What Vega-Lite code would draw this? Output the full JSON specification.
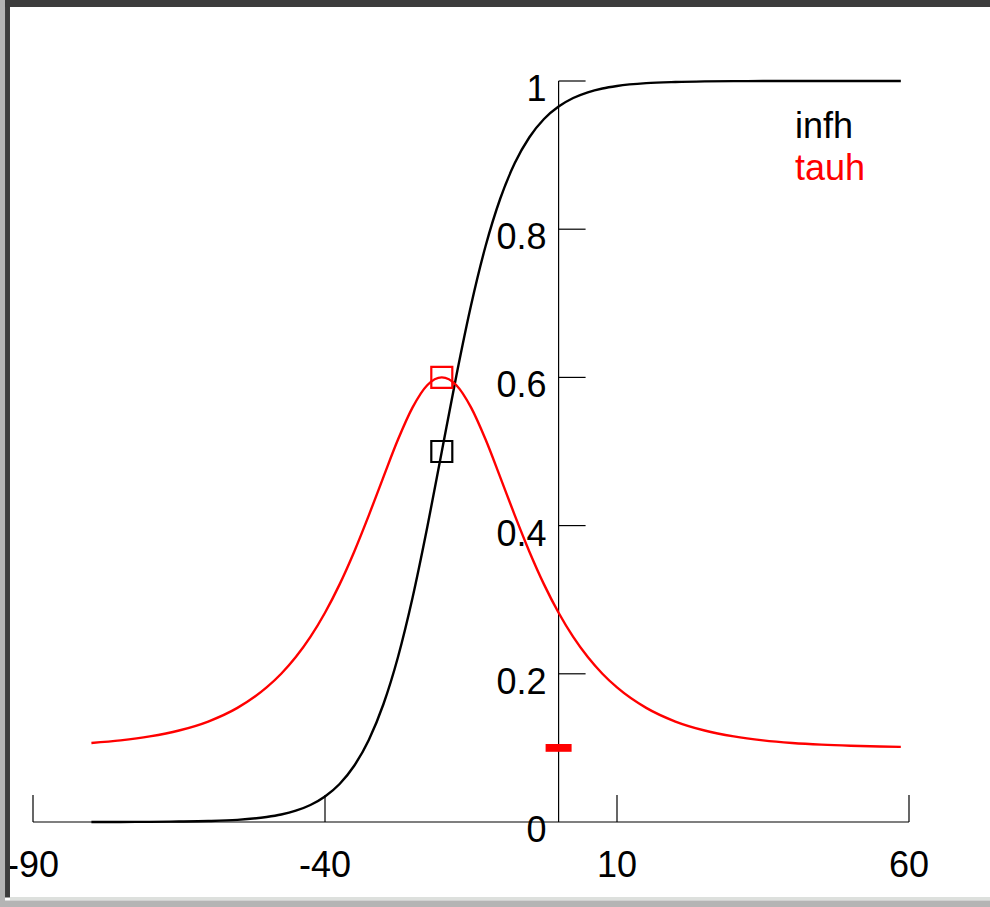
{
  "$schema": "https://vega.github.io/schema/vega-lite/v6.json",
  "width": 876,
  "height": 741,
  "autosize": {"type": "none"},
  "padding": {"left": 33, "top": 81, "right": 81, "bottom": 85},
  "background": "#ffffff",
  "config": {"view": {"stroke": null}, "font": "Liberation Sans"},
  "datasets": {
    "curves": [
      {"v": -80, "value": 0.00005, "series": "infh"},
      {"v": -75, "value": 0.0001, "series": "infh"},
      {"v": -70, "value": 0.0002, "series": "infh"},
      {"v": -65, "value": 0.0006, "series": "infh"},
      {"v": -60, "value": 0.0013, "series": "infh"},
      {"v": -55, "value": 0.0029, "series": "infh"},
      {"v": -50, "value": 0.0067, "series": "infh"},
      {"v": -47.5, "value": 0.0101, "series": "infh"},
      {"v": -45, "value": 0.0153, "series": "infh"},
      {"v": -42.5, "value": 0.023, "series": "infh"},
      {"v": -40, "value": 0.0345, "series": "infh"},
      {"v": -37.5, "value": 0.0513, "series": "infh"},
      {"v": -35, "value": 0.0759, "series": "infh"},
      {"v": -32.5, "value": 0.1107, "series": "infh"},
      {"v": -30, "value": 0.1589, "series": "infh"},
      {"v": -27.5, "value": 0.2227, "series": "infh"},
      {"v": -25, "value": 0.3029, "series": "infh"},
      {"v": -22.5, "value": 0.3973, "series": "infh"},
      {"v": -20, "value": 0.5, "series": "infh"},
      {"v": -17.5, "value": 0.6027, "series": "infh"},
      {"v": -15, "value": 0.6971, "series": "infh"},
      {"v": -12.5, "value": 0.7773, "series": "infh"},
      {"v": -10, "value": 0.8411, "series": "infh"},
      {"v": -7.5, "value": 0.8893, "series": "infh"},
      {"v": -5, "value": 0.9241, "series": "infh"},
      {"v": -2.5, "value": 0.9487, "series": "infh"},
      {"v": 0, "value": 0.9655, "series": "infh"},
      {"v": 2.5, "value": 0.977, "series": "infh"},
      {"v": 5, "value": 0.9847, "series": "infh"},
      {"v": 7.5, "value": 0.9899, "series": "infh"},
      {"v": 10, "value": 0.9933, "series": "infh"},
      {"v": 15, "value": 0.9971, "series": "infh"},
      {"v": 20, "value": 0.9987, "series": "infh"},
      {"v": 25, "value": 0.9995, "series": "infh"},
      {"v": 30, "value": 0.9998, "series": "infh"},
      {"v": 35, "value": 0.9999, "series": "infh"},
      {"v": 40, "value": 1.0, "series": "infh"},
      {"v": 50, "value": 1.0, "series": "infh"},
      {"v": 58.6, "value": 1.0, "series": "infh"},
      {"v": -80, "value": 0.1067, "series": "tauh"},
      {"v": -75, "value": 0.1102, "series": "tauh"},
      {"v": -70, "value": 0.1155, "series": "tauh"},
      {"v": -65, "value": 0.1235, "series": "tauh"},
      {"v": -60, "value": 0.1356, "series": "tauh"},
      {"v": -55, "value": 0.154, "series": "tauh"},
      {"v": -50, "value": 0.1816, "series": "tauh"},
      {"v": -47.5, "value": 0.2001, "series": "tauh"},
      {"v": -45, "value": 0.2226, "series": "tauh"},
      {"v": -42.5, "value": 0.2498, "series": "tauh"},
      {"v": -40, "value": 0.2824, "series": "tauh"},
      {"v": -37.5, "value": 0.3207, "series": "tauh"},
      {"v": -35, "value": 0.3648, "series": "tauh"},
      {"v": -32.5, "value": 0.4138, "series": "tauh"},
      {"v": -30, "value": 0.4655, "series": "tauh"},
      {"v": -27.5, "value": 0.5161, "series": "tauh"},
      {"v": -25, "value": 0.5595, "series": "tauh"},
      {"v": -22.5, "value": 0.5894, "series": "tauh"},
      {"v": -20, "value": 0.6, "series": "tauh"},
      {"v": -17.5, "value": 0.5894, "series": "tauh"},
      {"v": -15, "value": 0.5595, "series": "tauh"},
      {"v": -12.5, "value": 0.5161, "series": "tauh"},
      {"v": -10, "value": 0.4655, "series": "tauh"},
      {"v": -7.5, "value": 0.4138, "series": "tauh"},
      {"v": -5, "value": 0.3648, "series": "tauh"},
      {"v": -2.5, "value": 0.3207, "series": "tauh"},
      {"v": 0, "value": 0.2824, "series": "tauh"},
      {"v": 2.5, "value": 0.2498, "series": "tauh"},
      {"v": 5, "value": 0.2226, "series": "tauh"},
      {"v": 7.5, "value": 0.2001, "series": "tauh"},
      {"v": 10, "value": 0.1816, "series": "tauh"},
      {"v": 15, "value": 0.154, "series": "tauh"},
      {"v": 20, "value": 0.1356, "series": "tauh"},
      {"v": 25, "value": 0.1235, "series": "tauh"},
      {"v": 30, "value": 0.1155, "series": "tauh"},
      {"v": 35, "value": 0.1102, "series": "tauh"},
      {"v": 40, "value": 0.1067, "series": "tauh"},
      {"v": 45, "value": 0.1044, "series": "tauh"},
      {"v": 50, "value": 0.1029, "series": "tauh"},
      {"v": 55, "value": 0.1019, "series": "tauh"},
      {"v": 58.6, "value": 0.1014, "series": "tauh"}
    ],
    "markers": [
      {"v": -20, "value": 0.5, "series": "infh"},
      {"v": -20, "value": 0.6, "series": "tauh"}
    ],
    "bar": [{"v": 0, "value": 0.1}],
    "xticks": [
      {"v": -90, "label": "-90"},
      {"v": -40, "label": "-40"},
      {"v": 10, "label": "10"},
      {"v": 60, "label": "60"}
    ],
    "yticks": [
      {"value": 0, "label": "0"},
      {"value": 0.2, "label": "0.2"},
      {"value": 0.4, "label": "0.4"},
      {"value": 0.6, "label": "0.6"},
      {"value": 0.8, "label": "0.8"},
      {"value": 1, "label": "1"}
    ],
    "one": [{"k": 1}]
  },
  "layer": [
    {
      "data": {"name": "one"},
      "mark": {"type": "rule", "color": "#000000", "strokeWidth": 1.2},
      "encoding": {
        "x": {"datum": -90, "type": "quantitative", "scale": {"domain": [-90, 60], "nice": false, "zero": false}, "axis": null},
        "x2": {"datum": 60},
        "y": {"datum": 0, "type": "quantitative", "scale": {"domain": [0, 1], "nice": false, "zero": false}, "axis": null}
      }
    },
    {
      "data": {"name": "one"},
      "mark": {"type": "rule", "color": "#000000", "strokeWidth": 1.2},
      "encoding": {
        "x": {"datum": 0, "type": "quantitative", "scale": {"domain": [-90, 60], "nice": false, "zero": false}, "axis": null},
        "y": {"datum": 0, "type": "quantitative", "scale": {"domain": [0, 1], "nice": false, "zero": false}, "axis": null},
        "y2": {"datum": 1}
      }
    },
    {
      "data": {"name": "xticks"},
      "mark": {"type": "rule", "color": "#000000", "strokeWidth": 1.2},
      "encoding": {
        "x": {"field": "v", "type": "quantitative", "scale": {"domain": [-90, 60], "nice": false, "zero": false}, "axis": null},
        "y": {"datum": 0, "type": "quantitative", "scale": {"domain": [0, 1], "nice": false, "zero": false}, "axis": null},
        "y2": {"datum": 0.0364}
      }
    },
    {
      "data": {"name": "yticks"},
      "transform": [{"filter": "datum.value > 0"}],
      "mark": {"type": "rule", "color": "#000000", "strokeWidth": 1.2},
      "encoding": {
        "x": {"datum": 0, "type": "quantitative", "scale": {"domain": [-90, 60], "nice": false, "zero": false}, "axis": null},
        "x2": {"datum": 4.62},
        "y": {"field": "value", "type": "quantitative", "scale": {"domain": [0, 1], "nice": false, "zero": false}, "axis": null}
      }
    },
    {
      "data": {"name": "xticks"},
      "mark": {"type": "text", "fontSize": 36, "color": "#000000", "align": "center", "baseline": "alphabetic", "dy": 55},
      "encoding": {
        "x": {"field": "v", "type": "quantitative", "scale": {"domain": [-90, 60], "nice": false, "zero": false}, "axis": null},
        "y": {"datum": 0, "type": "quantitative", "scale": {"domain": [0, 1], "nice": false, "zero": false}, "axis": null},
        "text": {"field": "label", "type": "nominal"}
      }
    },
    {
      "data": {"name": "yticks"},
      "mark": {"type": "text", "fontSize": 36, "color": "#000000", "align": "right", "baseline": "alphabetic", "dx": -12, "dy": 20},
      "encoding": {
        "x": {"datum": 0, "type": "quantitative", "scale": {"domain": [-90, 60], "nice": false, "zero": false}, "axis": null},
        "y": {"field": "value", "type": "quantitative", "scale": {"domain": [0, 1], "nice": false, "zero": false}, "axis": null},
        "text": {"field": "label", "type": "nominal"}
      }
    },
    {
      "data": {"name": "curves"},
      "mark": {"type": "line", "strokeWidth": 2.4, "interpolate": "monotone"},
      "encoding": {
        "x": {"field": "v", "type": "quantitative", "scale": {"domain": [-90, 60], "nice": false, "zero": false}, "axis": null},
        "y": {"field": "value", "type": "quantitative", "scale": {"domain": [0, 1], "nice": false, "zero": false}, "axis": null},
        "color": {"field": "series", "type": "nominal", "scale": {"domain": ["infh", "tauh"], "range": ["#000000", "#ff0000"]}, "legend": null}
      }
    },
    {
      "data": {"name": "markers"},
      "mark": {"type": "point", "shape": "square", "size": 441, "filled": false, "strokeWidth": 2.2, "opacity": 1},
      "encoding": {
        "x": {"field": "v", "type": "quantitative", "scale": {"domain": [-90, 60], "nice": false, "zero": false}, "axis": null},
        "y": {"field": "value", "type": "quantitative", "scale": {"domain": [0, 1], "nice": false, "zero": false}, "axis": null},
        "color": {"field": "series", "type": "nominal", "scale": {"domain": ["infh", "tauh"], "range": ["#000000", "#ff0000"]}, "legend": null}
      }
    },
    {
      "data": {"name": "bar"},
      "mark": {"type": "point", "shape": "M-1,-0.3L1,-0.3L1,0.3L-1,0.3Z", "size": 676, "filled": true, "color": "#ff0000", "opacity": 1, "strokeWidth": 0},
      "encoding": {
        "x": {"field": "v", "type": "quantitative", "scale": {"domain": [-90, 60], "nice": false, "zero": false}, "axis": null},
        "y": {"field": "value", "type": "quantitative", "scale": {"domain": [0, 1], "nice": false, "zero": false}, "axis": null}
      }
    },
    {
      "data": {"values": [{"label": "infh"}]},
      "mark": {"type": "text", "fontSize": 36, "color": "#000000", "align": "left", "baseline": "alphabetic"},
      "encoding": {
        "x": {"datum": 40.48, "type": "quantitative", "scale": {"domain": [-90, 60], "nice": false, "zero": false}, "axis": null},
        "y": {"datum": 0.9235, "type": "quantitative", "scale": {"domain": [0, 1], "nice": false, "zero": false}, "axis": null},
        "text": {"field": "label", "type": "nominal"}
      }
    },
    {
      "data": {"values": [{"label": "tauh"}]},
      "mark": {"type": "text", "fontSize": 36, "color": "#ff0000", "align": "left", "baseline": "alphabetic"},
      "encoding": {
        "x": {"datum": 40.48, "type": "quantitative", "scale": {"domain": [-90, 60], "nice": false, "zero": false}, "axis": null},
        "y": {"datum": 0.8666, "type": "quantitative", "scale": {"domain": [0, 1], "nice": false, "zero": false}, "axis": null},
        "text": {"field": "label", "type": "nominal"}
      }
    },
    {
      "data": {"name": "one"},
      "mark": {"type": "rect", "color": "#b4b4b4"},
      "encoding": {
        "x": {"datum": -97, "type": "quantitative", "scale": {"domain": [-90, 60], "nice": false, "zero": false}, "axis": null},
        "x2": {"datum": -94.79},
        "y": {"datum": -0.13, "type": "quantitative", "scale": {"domain": [0, 1], "nice": false, "zero": false}, "axis": null},
        "y2": {"datum": 1.13}
      }
    },
    {
      "data": {"name": "one"},
      "mark": {"type": "rect", "color": "#3c3c3c"},
      "encoding": {
        "x": {"datum": -94.79, "type": "quantitative", "scale": {"domain": [-90, 60], "nice": false, "zero": false}, "axis": null},
        "x2": {"datum": -93.94},
        "y": {"datum": -0.102, "type": "quantitative", "scale": {"domain": [0, 1], "nice": false, "zero": false}, "axis": null},
        "y2": {"datum": 1.13}
      }
    },
    {
      "data": {"name": "one"},
      "mark": {"type": "rect", "color": "#3c3c3c"},
      "encoding": {
        "x": {"datum": -94.79, "type": "quantitative", "scale": {"domain": [-90, 60], "nice": false, "zero": false}, "axis": null},
        "x2": {"datum": 75},
        "y": {"datum": 1.0999, "type": "quantitative", "scale": {"domain": [0, 1], "nice": false, "zero": false}, "axis": null},
        "y2": {"datum": 1.13}
      }
    },
    {
      "data": {"name": "one"},
      "mark": {"type": "rect", "color": "#dde0dd"},
      "encoding": {
        "x": {"datum": -93.94, "type": "quantitative", "scale": {"domain": [-90, 60], "nice": false, "zero": false}, "axis": null},
        "x2": {"datum": 75},
        "y": {"datum": -0.106, "type": "quantitative", "scale": {"domain": [0, 1], "nice": false, "zero": false}, "axis": null},
        "y2": {"datum": -0.1013}
      }
    },
    {
      "data": {"name": "one"},
      "mark": {"type": "rect", "color": "#b4b4b4"},
      "encoding": {
        "x": {"datum": -97, "type": "quantitative", "scale": {"domain": [-90, 60], "nice": false, "zero": false}, "axis": null},
        "x2": {"datum": 75},
        "y": {"datum": -0.13, "type": "quantitative", "scale": {"domain": [0, 1], "nice": false, "zero": false}, "axis": null},
        "y2": {"datum": -0.106}
      }
    }
  ]
}
